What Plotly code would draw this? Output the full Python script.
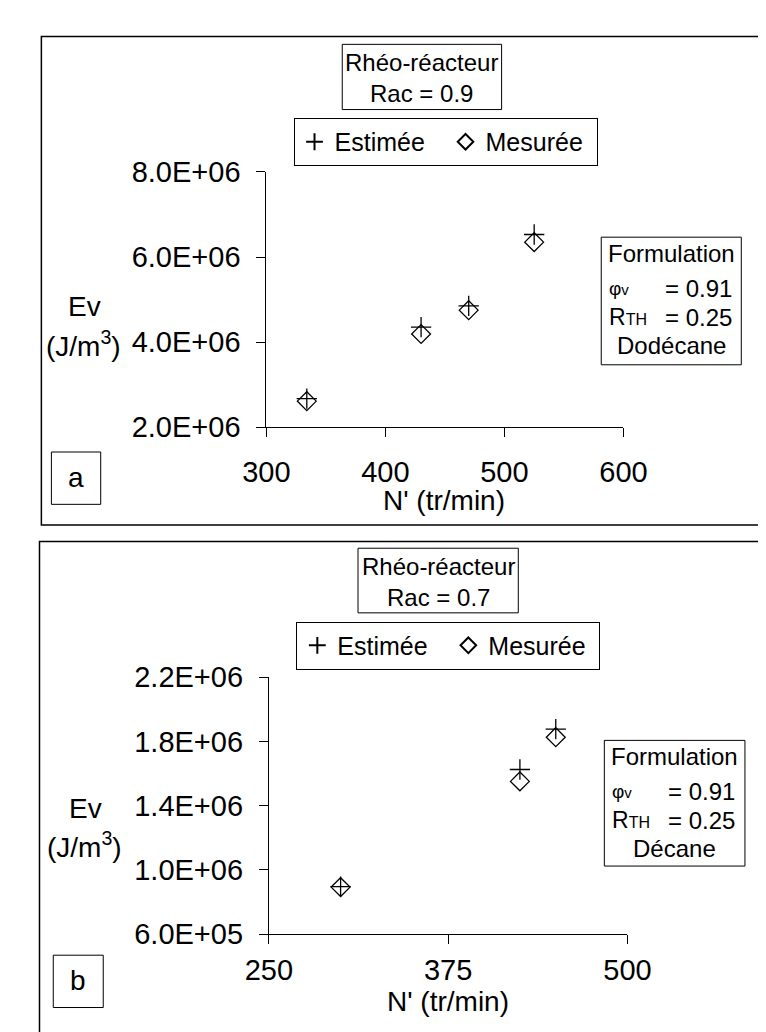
import plotly.graph_objects as go

W, H = 766, 1032
FONT = "Liberation Sans"

# ---- data (panel a: Rac = 0.9, Dodécane) ----
n_a = [334, 430, 470, 525]
est_a = [2.67e6, 4.35e6, 4.85e6, 6.53e6]
mes_a = [2.61e6, 4.19e6, 4.75e6, 6.35e6]
xt_a = [300, 400, 500, 600]
yt_a = [2e6, 4e6, 6e6, 8e6]
ytl_a = ["2.0E+06", "4.0E+06", "6.0E+06", "8.0E+06"]

# ---- data (panel b: Rac = 0.7, Décane) ----
n_b = [300, 425, 450]
est_b = [0.896e6, 1.625e6, 1.876e6]
mes_b = [0.893e6, 1.551e6, 1.826e6]
xt_b = [250, 375, 500]
yt_b = [6e5, 1.0e6, 1.4e6, 1.8e6, 2.2e6]
ytl_b = ["6.0E+05", "1.0E+06", "1.4E+06", "1.8E+06", "2.2E+06"]


def px(x):
    return x / W


def py(y):
    return 1 - y / H


fig = go.Figure()

mk_est = dict(symbol="cross-thin-open", size=14.5, color="black", line=dict(color="black", width=1.3))
mk_mes = dict(symbol="diamond-open", size=14.5, color="black", line=dict(color="black", width=1.3))

fig.add_trace(go.Scatter(x=n_a, y=est_a, mode="markers", name="Estimée", marker=mk_est,
                         xaxis="x", yaxis="y", legend="legend"))
fig.add_trace(go.Scatter(x=n_a, y=mes_a, mode="markers", name="Mesurée", marker=mk_mes,
                         xaxis="x", yaxis="y", legend="legend"))
fig.add_trace(go.Scatter(x=n_b, y=est_b, mode="markers", name="Estimée", marker=mk_est,
                         xaxis="x2", yaxis="y2", legend="legend2"))
fig.add_trace(go.Scatter(x=n_b, y=mes_b, mode="markers", name="Mesurée", marker=mk_mes,
                         xaxis="x2", yaxis="y2", legend="legend2"))

ax_common = dict(showline=True, linecolor="black", linewidth=1, ticks="outside", ticklen=9,
                 tickcolor="black", tickwidth=1, showgrid=False, zeroline=False,
                 tickfont=dict(family=FONT, size=29, color="black"))

leg_common = dict(xanchor="left", yanchor="top", orientation="h", entrywidth=106,
                  itemsizing="constant", bordercolor="black", borderwidth=1, bgcolor="white",
                  font=dict(family=FONT, size=25, color="black"))

fig.update_layout(
    width=W, height=H,
    margin=dict(l=0, r=0, t=0, b=0),
    paper_bgcolor="white", plot_bgcolor="white",
    font=dict(family=FONT, color="black"),
    xaxis=dict(domain=[px(250), px(631)], range=[300, 600], tickvals=xt_a, anchor="y",
               ticklabelstandoff=10, **ax_common),
    yaxis=dict(domain=[py(416), py(152.7)], range=[2e6, 8e6], tickvals=yt_a, ticktext=ytl_a,
               anchor="x", ticklabelstandoff=10, **ax_common),
    xaxis2=dict(domain=[px(252.7), px(635.3)], range=[250, 500], tickvals=xt_b, anchor="y2",
                ticklabelstandoff=1, **ax_common),
    yaxis2=dict(domain=[py(939.3), py(674)], range=[6e5, 2.2e6], tickvals=yt_b, ticktext=ytl_b,
                anchor="x2", ticklabelstandoff=10, **ax_common),
    legend=dict(x=px(279), y=py(97), **leg_common),
    legend2=dict(x=px(282), y=py(616.7), **leg_common),
)

shapes = []
anns = []


def box(x0, y0, x1, y1, w=1):
    shapes.append(dict(type="rect", xref="paper", yref="paper", x0=px(x0), x1=px(x1),
                       y0=py(y1), y1=py(y0), line=dict(color="black", width=w), layer="above"))


def txt(x, y, s, size=24, xanchor="center"):
    anns.append(dict(x=px(x), y=py(y), xref="paper", yref="paper", text=s, showarrow=False,
                     xanchor=xanchor, yanchor="middle", font=dict(family=FONT, size=size, color="black")))


# panel frames
box(10, 13, 800, 517, w=1.5)
box(8, 534, 800, 1100, w=1.5)

for off, rac, tb, lab in [
    (0, "0.9", (331, 21, 501, 88.3), (20.7, 441.7, 73.3, 495.7)),
    (1, "0.7", (347.8, 541, 518.8, 607.7), (22.7, 961, 76, 1015)),
]:
    box(*tb)
    cx = (tb[0] + tb[2]) / 2
    txt(cx, tb[1] + 18.5, "Rhéo-réacteur")
    txt(cx, tb[1] + 50.5, "Rac = " + rac)
    box(*lab)
    txt((lab[0] + lab[2]) / 2, (lab[1] + lab[3]) / 2 - 1, "a" if off == 0 else "b", size=28)

# formulation boxes
for (bx0, by0, bx1, by1, liquid) in [(607.3, 220, 756.7, 351.7, "Dodécane"),
                                     (610.6, 739.3, 760.6, 869, "Décane")]:
    box(bx0, by0, bx1, by1)
    cx = (bx0 + bx1) / 2
    txt(cx, by0 + 17, "Formulation")
    txt(bx0 + 6, by0 + 53, "<span style='font-size:19px'>φ</span>v", size=15, xanchor="left")
    txt(bx1 - 8, by0 + 52.5, "= 0.91", xanchor="right")
    txt(bx0 + 6, by0 + 82.5, "R<span style='font-size:16px'>TH</span>", size=23, xanchor="left")
    txt(bx1 - 8, by0 + 82.5, "= 0.25", xanchor="right")
    txt(cx, by0 + 112, liquid)

# axis titles
txt(56, 291.7, "Ev", size=28)
txt(55, 330, "(J/m<sup>3</sup>)", size=28)
txt(440, 492, "N' (tr/min)", size=28)
txt(57, 810, "Ev", size=28)
txt(56, 847, "(J/m<sup>3</sup>)", size=28)
txt(444, 1009, "N' (tr/min)", size=28)

fig.update_layout(shapes=shapes, annotations=anns)
fig.write_html("out.html")
